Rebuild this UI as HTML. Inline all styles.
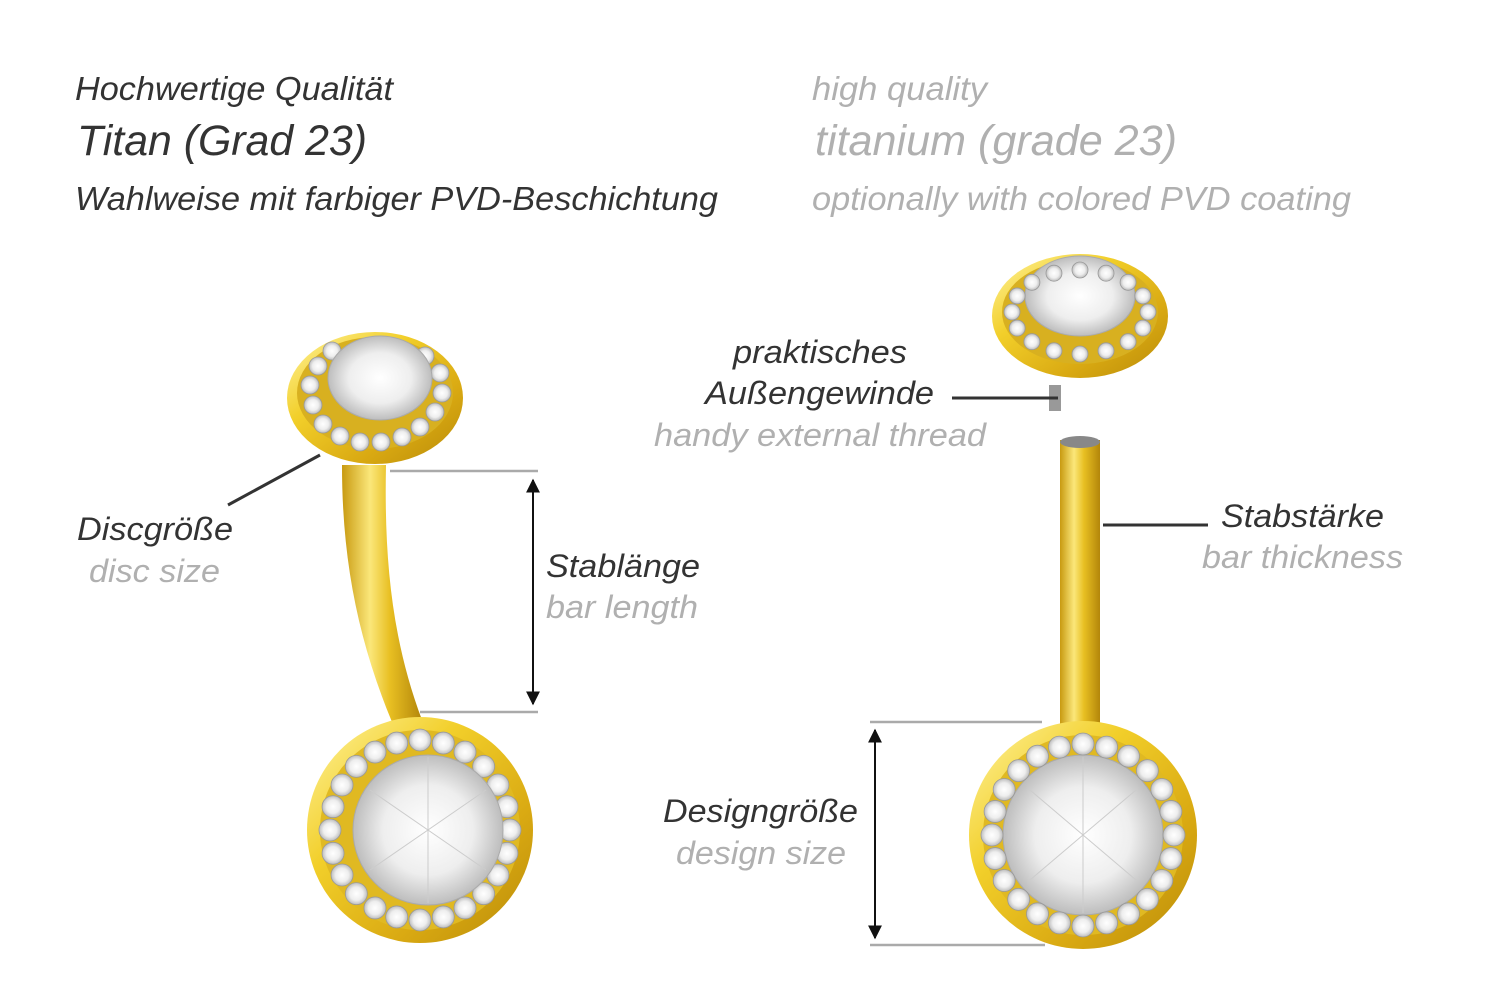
<!DOCTYPE html>
<html><head><meta charset="utf-8"><style>
html,body{margin:0;padding:0;background:#fff;}
svg{display:block}
text{font-family:"Liberation Sans",sans-serif;font-style:italic;}
</style></head><body>
<svg width="1500" height="1001" viewBox="0 0 1500 1001" xmlns="http://www.w3.org/2000/svg">
<defs>
<linearGradient id="gold" x1="0" y1="0" x2="1" y2="1">
<stop offset="0" stop-color="#fff4a0"/><stop offset="0.35" stop-color="#f2cf2a"/><stop offset="0.7" stop-color="#d9a912"/><stop offset="1" stop-color="#b88a08"/>
</linearGradient>
<linearGradient id="barg" x1="0" y1="0" x2="1" y2="0">
<stop offset="0" stop-color="#c89a10"/><stop offset="0.35" stop-color="#fbe77a"/><stop offset="0.6" stop-color="#e8bf22"/><stop offset="1" stop-color="#b3860a"/>
</linearGradient>
<radialGradient id="gem" cx="0.5" cy="0.5" r="0.5">
<stop offset="0" stop-color="#ffffff"/><stop offset="0.6" stop-color="#eeeeee"/><stop offset="1" stop-color="#bdbdbd"/>
</radialGradient>
<marker id="ah" viewBox="0 0 10 10" refX="9" refY="5" markerWidth="7" markerHeight="9" orient="auto-start-reverse"><path d="M0,0 L10,5 L0,10 z" fill="#111"/></marker>
</defs>

<g font-size="33" fill="#333">
<text x="75" y="100" textLength="318" lengthAdjust="spacingAndGlyphs">Hochwertige Qualität</text>
<text x="77" y="155" font-size="43" textLength="290" lengthAdjust="spacingAndGlyphs">Titan (Grad 23)</text>
<text x="75" y="210" textLength="643" lengthAdjust="spacingAndGlyphs">Wahlweise mit farbiger PVD-Beschichtung</text>
</g>
<g font-size="33" fill="#b0b0b0">
<text x="812" y="100" textLength="175" lengthAdjust="spacingAndGlyphs">high quality</text>
<text x="815" y="155" font-size="43" textLength="362" lengthAdjust="spacingAndGlyphs">titanium (grade 23)</text>
<text x="812" y="210" textLength="539" lengthAdjust="spacingAndGlyphs">optionally with colored PVD coating</text>
</g>

<!-- left piece -->
<path d="M342,465 C342,560 358,640 392,722 L422,720 C392,640 384,560 386,465 Z" fill="url(#barg)"/>
<ellipse cx="375" cy="398" rx="88" ry="66" fill="url(#gold)"/>
<ellipse cx="375" cy="393" rx="78" ry="56" fill="#d8b020"/>
<g fill="url(#gem)" stroke="#999" stroke-width="0.8">
<circle cx="310" cy="385" r="9"/><circle cx="313" cy="405" r="9"/><circle cx="323" cy="424" r="9"/><circle cx="340" cy="436" r="9"/><circle cx="360" cy="442" r="9"/><circle cx="381" cy="442" r="9"/><circle cx="402" cy="437" r="9"/><circle cx="420" cy="427" r="9"/><circle cx="435" cy="412" r="9"/><circle cx="442" cy="393" r="9"/><circle cx="440" cy="373" r="9"/><circle cx="318" cy="366" r="9"/><circle cx="332" cy="351" r="9"/><circle cx="425" cy="356" r="9"/>
</g>
<ellipse cx="380" cy="378" rx="52" ry="42" fill="url(#gem)" stroke="#aaa"/>
<circle cx="420" cy="830" r="113" fill="url(#gold)"/>
<circle cx="420" cy="830" r="100" fill="#e0b922"/>
<g id="ringL"></g>
<circle cx="428" cy="830" r="75" fill="url(#gem)" stroke="#aaa"/>
<g stroke="#ccc" stroke-width="1"><line x1="370" y1="790" x2="486" y2="870"/><line x1="370" y1="870" x2="486" y2="790"/><line x1="428" y1="757" x2="428" y2="903"/></g>

<!-- right piece -->
<rect x="1060" y="440" width="40" height="285" fill="url(#barg)"/>
<ellipse cx="1080" cy="442" rx="20" ry="6" fill="#888"/>
<rect x="1049" y="385" width="12" height="26" fill="#999"/>
<ellipse cx="1080" cy="316" rx="88" ry="62" fill="url(#gold)"/>
<ellipse cx="1080" cy="312" rx="78" ry="52" fill="#d8b020"/>
<ellipse cx="1080" cy="296" rx="55" ry="40" fill="url(#gem)" stroke="#aaa"/>
<circle cx="1083" cy="835" r="114" fill="url(#gold)"/>
<circle cx="1083" cy="835" r="100" fill="#e0b922"/>
<circle cx="1083" cy="835" r="80" fill="url(#gem)" stroke="#aaa"/>
<g stroke="#ccc" stroke-width="1"><line x1="1030" y1="790" x2="1136" y2="880"/><line x1="1030" y1="880" x2="1136" y2="790"/><line x1="1083" y1="757" x2="1083" y2="913"/></g>
<g id="ringR"></g>
<g id="ringT"></g>

<!-- lines -->
<g stroke="#aaa" stroke-width="2.5">
<line x1="390" y1="471" x2="538" y2="471"/><line x1="420" y1="712" x2="538" y2="712"/>
<line x1="870" y1="722" x2="1042" y2="722"/><line x1="870" y1="945" x2="1045" y2="945"/>
</g>
<g stroke="#111" stroke-width="2">
<line x1="533" y1="480" x2="533" y2="704" marker-start="url(#ah)" marker-end="url(#ah)"/>
<line x1="875" y1="730" x2="875" y2="938" marker-start="url(#ah)" marker-end="url(#ah)"/>
</g>
<g stroke="#333" stroke-width="3">
<line x1="228" y1="505" x2="320" y2="455"/>
<line x1="952" y1="398" x2="1058" y2="398"/>
<line x1="1103" y1="525" x2="1208" y2="525"/>
</g>

<g font-size="32" lengthAdjust="spacingAndGlyphs">
<text x="77" y="540" fill="#333" textLength="156" lengthAdjust="spacingAndGlyphs">Discgröße</text>
<text x="89" y="582" fill="#b0b0b0" textLength="131" lengthAdjust="spacingAndGlyphs">disc size</text>
<text x="546" y="577" fill="#333" textLength="154" lengthAdjust="spacingAndGlyphs">Stablänge</text>
<text x="546" y="618" fill="#b0b0b0" textLength="152" lengthAdjust="spacingAndGlyphs">bar length</text>
<text x="733" y="363" fill="#333" textLength="174" lengthAdjust="spacingAndGlyphs">praktisches</text>
<text x="705" y="404" fill="#333" textLength="229" lengthAdjust="spacingAndGlyphs">Außengewinde</text>
<text x="654" y="446" fill="#b0b0b0" textLength="332" lengthAdjust="spacingAndGlyphs">handy external thread</text>
<text x="1221" y="527" fill="#333" textLength="163" lengthAdjust="spacingAndGlyphs">Stabstärke</text>
<text x="1202" y="568" fill="#b0b0b0" textLength="201" lengthAdjust="spacingAndGlyphs">bar thickness</text>
<text x="663" y="822" fill="#333" textLength="195" lengthAdjust="spacingAndGlyphs">Designgröße</text>
<text x="676" y="864" fill="#b0b0b0" textLength="170" lengthAdjust="spacingAndGlyphs">design size</text>
</g>
</svg>
<script>
function ring(id,cx,cy,r,n,s,rx,ry){var g=document.getElementById(id),o='';for(var i=0;i<n;i++){var a=i/n*Math.PI*2;o+='<circle cx="'+(cx+(rx||r)*Math.cos(a))+'" cy="'+(cy+(ry||r)*Math.sin(a))+'" r="'+s+'" fill="url(#gem)" stroke="#999" stroke-width="0.8"/>';}g.innerHTML=o;}
ring('ringL',420,830,90,24,11);
ring('ringR',1083,835,91,24,11);
ring('ringT',1080,312,0,16,8,68,42);
</script>
</body></html>
